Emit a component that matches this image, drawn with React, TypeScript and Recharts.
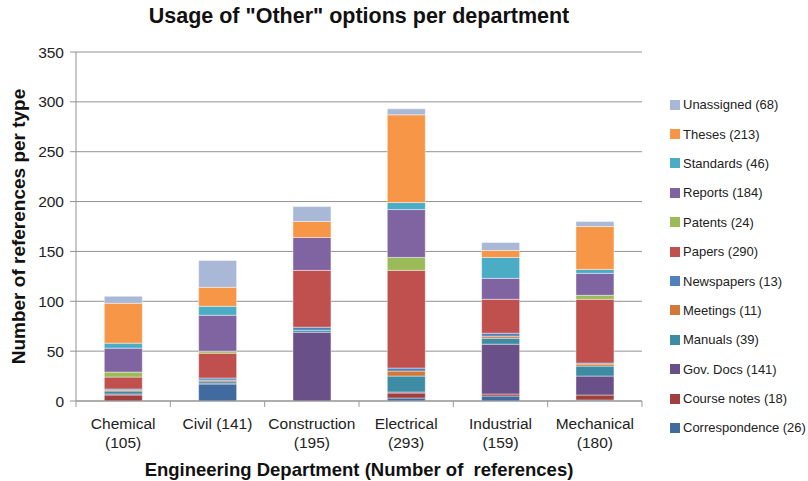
import React from "react";
import {
  BarChart, Bar, XAxis, YAxis, CartesianGrid, Label,
} from "recharts";

// references per department, one array per reference type
const departments = ["Chemical", "Civil", "Construction", "Electrical", "Industrial", "Mechanical"];

const correspondence = [0, 17, 0, 3, 5, 1];
const courseNotes = [6, 0, 0, 5, 2, 5];
const govDocs = [1, 1, 69, 1, 50, 19];
const manuals = [3, 2, 2, 16, 6, 10];
const meetings = [1, 1, 0, 5, 2, 2];
const newspapers = [1, 2, 3, 3, 3, 1];
const papers = [12, 25, 57, 98, 34, 64];
const patents = [5, 2, 0, 13, 0, 4];
const reports = [24, 36, 33, 48, 21, 22];
const standards = [5, 9, 0, 7, 21, 4];
const theses = [40, 19, 16, 88, 7, 43];
const unassigned = [7, 27, 15, 6, 8, 5];

const yTicks = [0, 50, 100, 150, 200, 250, 300, 350];

// stacking order, bottom to top
const series = [
  { key: "correspondence", name: "Correspondence", values: correspondence, color: "#416a9f" },
  { key: "courseNotes", name: "Course notes", values: courseNotes, color: "#a03f3d" },
  { key: "govDocs", name: "Gov. Docs", values: govDocs, color: "#6a5088" },
  { key: "manuals", name: "Manuals", values: manuals, color: "#3d8ca3" },
  { key: "meetings", name: "Meetings", values: meetings, color: "#d2793a" },
  { key: "newspapers", name: "Newspapers", values: newspapers, color: "#4f81bd" },
  { key: "papers", name: "Papers", values: papers, color: "#c0504d" },
  { key: "patents", name: "Patents", values: patents, color: "#9bbb59" },
  { key: "reports", name: "Reports", values: reports, color: "#8064a2" },
  { key: "standards", name: "Standards", values: standards, color: "#4bacc6" },
  { key: "theses", name: "Theses", values: theses, color: "#f79646" },
  { key: "unassigned", name: "Unassigned", values: unassigned, color: "#aab8d7" },
];

const sum = (a: number[]) => a.reduce((s, v) => s + v, 0);

const data = departments.map((dept, i) => {
  const row: any = { dept, total: 0 };
  series.forEach(s => {
    row[s.key] = s.values[i];
    row.total += s.values[i];
  });
  return row;
});

const W = 808;
const H = 481;
const M = { top: 52, right: 166, bottom: 0, left: 0 };
const Y_AXIS_W = 76;
const X_AXIS_H = 80;
const FONT = "'Liberation Sans', Arial, Helvetica, sans-serif";
const bandWidth = (W - M.left - M.right - Y_AXIS_W) / departments.length;

function DeptTick(props: any) {
  const { x, y, payload, index } = props;
  const i = payload.index ?? index;
  const row = data[i];
  const name = payload.value as string;
  const lines = name.length <= 5 ? [`${name} (${row.total})`] : [name, `(${row.total})`];
  const left = x - bandWidth / 2;
  return (
    <g>
      <line x1={left} y1={y} x2={left} y2={y + 6} stroke="#999" />
      {i === departments.length - 1 && (
        <line x1={x + bandWidth / 2} y1={y} x2={x + bandWidth / 2} y2={y + 6} stroke="#999" />
      )}
      {lines.map((t, k) => (
        <text key={k} x={x} y={y + 28 + k * 19} textAnchor="middle"
          fontSize={15.5} fill="#222" fontFamily={FONT}>{t}</text>
      ))}
    </g>
  );
}

function LegendList() {
  return (
    <div style={{
      position: "absolute", left: 670, top: 90, width: 140,
      fontFamily: FONT, fontSize: 13, color: "#222",
    }}>
      {[...series].reverse().map(s => (
        <div key={s.key} style={{ display: "flex", alignItems: "center", height: 29.4 }}>
          <span style={{ width: 10, height: 10, background: s.color, marginRight: 3, display: "inline-block" }} />
          <span>{`${s.name} (${sum(s.values)})`}</span>
        </div>
      ))}
    </div>
  );
}

export default function App() {
  return (
    <div style={{ position: "absolute", left: 0, top: 0, width: W, height: H, background: "#fff" }}>
      <BarChart width={W} height={H} data={data} margin={M} barCategoryGap="30%">
        <CartesianGrid vertical={false} stroke="#929292" />
        <XAxis dataKey="dept" interval={0} height={X_AXIS_H} stroke="#929292"
          tickLine={false} tickSize={0} tickMargin={0} tick={<DeptTick />}>
          <Label value={"Engineering Department (Number of\u00A0 references)"} position="insideBottom"
            offset={5} fontSize={18.5} fontWeight="bold" fill="#111" fontFamily={FONT} />
        </XAxis>
        <YAxis width={Y_AXIS_W} domain={[0, 350]} ticks={yTicks} stroke="#929292"
          tickSize={6} tickMargin={6}
          tick={{ fontSize: 15.5, fill: "#222", fontFamily: FONT }}>
          <Label value="Number of references per type" angle={-90} position="insideLeft"
            offset={18} fontSize={19} fontWeight="bold" fill="#111" fontFamily={FONT}
            style={{ textAnchor: "middle" }} />
        </YAxis>
        {series.map(s => (
          <Bar key={s.key} dataKey={s.key} name={s.name} stackId="refs" fill={s.color}
            stroke="rgba(255,255,255,0.55)" strokeWidth={0.8} isAnimationActive={false} />
        ))}
      </BarChart>
      <div style={{
        position: "absolute", top: 4, left: 0, width: 718, textAlign: "center",
        fontFamily: FONT, fontWeight: "bold", fontSize: 21.5, color: "#111",
      }}>
        Usage of "Other" options per department
      </div>
      <LegendList />
    </div>
  );
}
